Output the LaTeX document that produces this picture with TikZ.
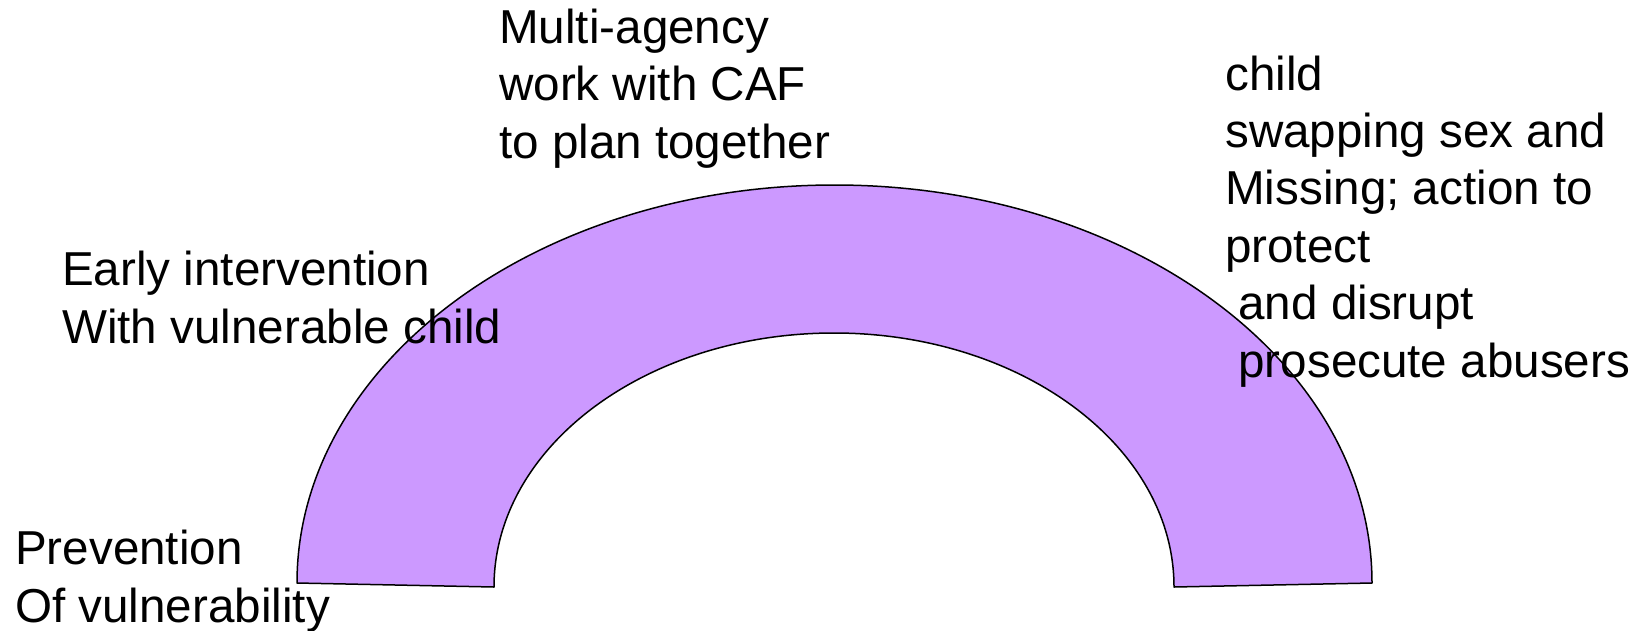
\documentclass[tikz,border=0pt]{standalone}
\usepackage{fontspec}
\setmainfont{Liberation Sans}
\definecolor{archfill}{HTML}{CC99FF}
\begin{document}
\begin{tikzpicture}[x=1pt,y=-1pt,
  lbl/.style={anchor=base west, inner sep=0pt, align=left, font=\fontsize{47.6}{57.4}\selectfont},
  archstyle/.style={draw=black, fill=archfill, line width=1.5pt, line join=round}]
\useasboundingbox (0,0) rectangle (1643,630);
\draw[archstyle] (297,583) arc[start angle=180, end angle=360, x radius=537.5, y radius=398]
  -- (1174,587) arc[start angle=0, end angle=-180, x radius=340, y radius=254] -- cycle;
% anchor base = baseline of the last line
\node[lbl] (multi) at (499,158) {Multi-agency\\work with CAF\\to plan together};
\node[lbl] (early) at (62,343) {Early intervention\\With vulnerable child};
\node[lbl] (prev) at (15,622) {Prevention\\Of vulnerability};
\node[lbl] (right) at (1225,377) {child\\swapping sex and\\Missing; action to\\protect\\\hspace*{0.278em}and disrupt\\\hspace*{0.278em}prosecute abusers};
\end{tikzpicture}
\end{document}
